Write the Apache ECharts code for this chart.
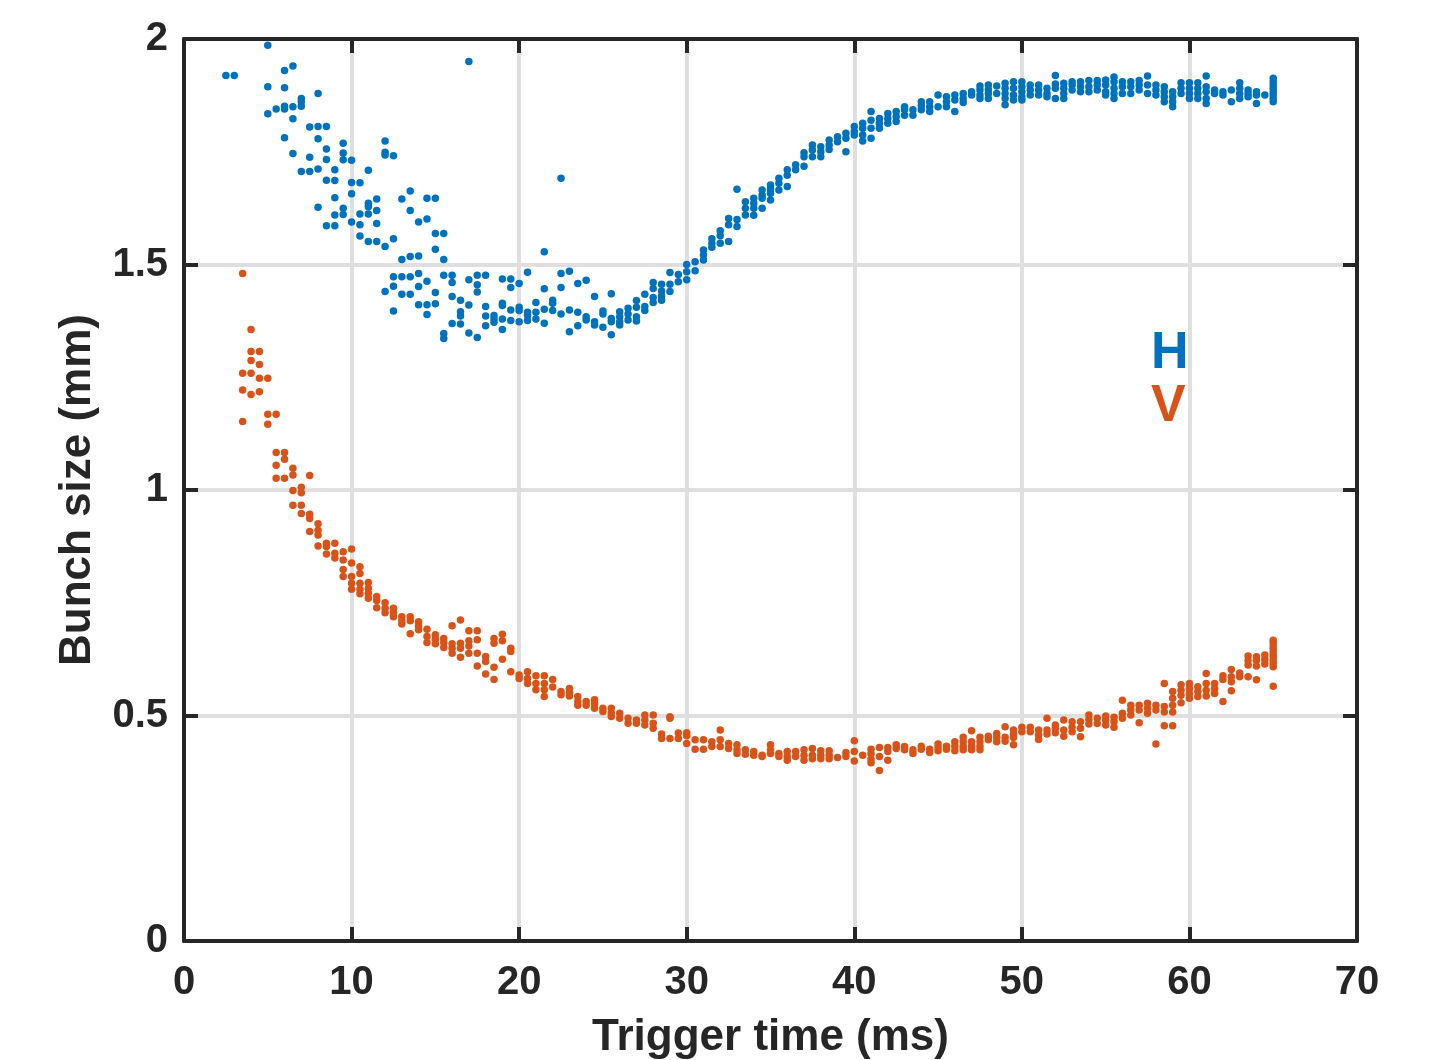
<!DOCTYPE html>
<html><head><meta charset="utf-8">
<script src="https://cdn.jsdelivr.net/npm/echarts@6/dist/echarts.min.js"></script>
<style>html,body{margin:0;padding:0;background:#fff}#c{width:1445px;height:1060px}</style>
</head><body><div id="c"></div>
<script>
// Trigger times (ms) and the bunch sizes (mm) measured at each time
const hTime = [2.5,3,5,5.5,6,6.5,7,7.5,8,8.5,9,9.5,10,10.5,11,11.5,12,12.5,13,13.5,14,14.5,15,15.5,16,16.5,17,17.5,18,18.5,19,19.5,20,20.5,21,21.5,22,22.5,23,23.5,24,24.5,25,25.5,26,26.5,27,27.5,28,28.5,29,29.5,30,30.5,31,31.5,32,32.5,33,33.5,34,34.5,35,35.5,36,36.5,37,37.5,38,38.5,39,39.5,40,40.5,41,41.5,42,42.5,43,43.5,44,44.5,45,45.5,46,46.5,47,47.5,48,48.5,49,49.5,50,50.5,51,51.5,52,52.5,53,53.5,54,54.5,55,55.5,56,56.5,57,57.5,58,58.5,59,59.5,60,60.5,61,61.5,62,62.5,63,63.5,64,64.5,65];
const hSize = [
[1.919],[1.919],[1.986,1.894,1.834],[1.845],[1.930,1.892,1.851,1.845,1.781],[1.940,1.850,1.823,1.746],
[1.868,1.861,1.851,1.706],[1.805,1.738,1.706],[1.879,1.806,1.779,1.712,1.627],[1.806,1.756,1.733,1.687,1.586],
[1.710,1.686,1.648,1.610,1.586],[1.769,1.747,1.732,1.625,1.611],[1.731,1.682,1.657,1.594],[1.681,1.612,1.588,1.563],
[1.709,1.636,1.628,1.612,1.551],[1.645,1.620,1.591,1.551],[1.774,1.749,1.743,1.540,1.440],[1.741,1.557,1.473,1.452,1.397],
[1.645,1.511,1.473,1.434],[1.663,1.620,1.518,1.473,1.434],[1.594,1.519,1.480,1.451,1.411],[1.647,1.601,1.463,1.411,1.389],
[1.647,1.569,1.534,1.438,1.413],[1.569,1.511,1.476,1.347,1.336],[1.476,1.460,1.429,1.369],[1.421,1.395,1.386,1.368],
[1.950,1.466,1.410,1.348],[1.476,1.455,1.439,1.338],[1.476,1.407,1.386,1.364],[1.387,1.379,1.372],
[1.468,1.414,1.409,1.379,1.356],[1.468,1.449,1.399,1.376],[1.458,1.405,1.398,1.373],[1.483,1.394,1.387,1.376],
[1.416,1.394,1.379],[1.528,1.446,1.401,1.370],[1.421,1.414,1.398],[1.691,1.480,1.449,1.390],
[1.485,1.399,1.351],[1.458,1.394,1.364],[1.465,1.384,1.377],[1.429,1.373,1.366],[1.397,1.390,1.361],
[1.435,1.380,1.373,1.344],[1.395,1.384,1.373,1.366],[1.403,1.390,1.377],[1.420,1.405,1.384,1.375],
[1.434,1.407,1.398],[1.460,1.447,1.427,1.416],[1.456,1.441,1.430,1.421],[1.482,1.456,1.440],[1.478,1.462],
[1.500,1.484,1.466],[1.506,1.486],[1.532,1.521,1.510],[1.557,1.547,1.538],[1.575,1.564,1.547],[1.602,1.588,1.551],
[1.667,1.600,1.584],[1.639,1.625,1.610],[1.647,1.636,1.625,1.609],[1.665,1.654,1.647,1.625],[1.676,1.667,1.658,1.643],
[1.691,1.680,1.665],[1.710,1.698,1.673],[1.721,1.710],[1.748,1.739,1.718],[1.765,1.754,1.739],[1.761,1.750,1.739],
[1.776,1.765,1.755],[1.783,1.772],[1.791,1.780,1.750],[1.806,1.795,1.787],[1.813,1.802,1.787,1.774],
[1.839,1.820,1.802,1.780],[1.824,1.813,1.802],[1.835,1.824,1.813],[1.839,1.828,1.817],[1.850,1.843,1.831],
[1.843,1.831],[1.861,1.852,1.843],[1.861,1.850,1.839],[1.876,1.850],[1.872,1.861,1.850],[1.876,1.865,1.839],
[1.879,1.868,1.859],[1.883,1.876],[1.896,1.887,1.876,1.868],[1.898,1.888,1.879,1.868],[1.896,1.879],
[1.902,1.891,1.879,1.868,1.854],[1.905,1.891,1.876,1.865],[1.905,1.894,1.883,1.872,1.865],[1.898,1.887,1.876],
[1.898,1.887,1.876],[1.891,1.879,1.872],[1.919,1.900,1.891,1.868],[1.902,1.891,1.879,1.868],[1.905,1.898,1.887],
[1.905,1.894,1.883],[1.908,1.894,1.883],[1.908,1.898,1.887],[1.909,1.898,1.883,1.876],[1.916,1.905,1.891,1.879,1.868],
[1.905,1.894,1.879],[1.905,1.894,1.879],[1.908,1.898,1.887],[1.918,1.898,1.879],[1.898,1.887,1.876],
[1.894,1.883,1.872,1.861],[1.883,1.872,1.861,1.850],[1.903,1.891,1.879],[1.903,1.891,1.879,1.868],
[1.903,1.891,1.879,1.868],[1.918,1.894,1.883,1.868,1.857],[1.887,1.879],[1.883,1.876],[1.887,1.861],
[1.903,1.891,1.879,1.868],[1.887,1.879,1.872],[1.883,1.876,1.857],[1.876],
[1.913,1.905,1.898,1.891,1.883,1.876,1.868,1.861]
];
const vTime = [3.5,4,4.5,5,5.5,6,6.5,7,7.5,8,8.5,9,9.5,10,10.5,11,11.5,12,12.5,13,13.5,14,14.5,15,15.5,16,16.5,17,17.5,18,18.5,19,19.5,20,20.5,21,21.5,22,22.5,23,23.5,24,24.5,25,25.5,26,26.5,27,27.5,28,28.5,29,29.5,30,30.5,31,31.5,32,32.5,33,33.5,34,34.5,35,35.5,36,36.5,37,37.5,38,38.5,39,39.5,40,40.5,41,41.5,42,42.5,43,43.5,44,44.5,45,45.5,46,46.5,47,47.5,48,48.5,49,49.5,50,50.5,51,51.5,52,52.5,53,53.5,54,54.5,55,55.5,56,56.5,57,57.5,58,58.5,59,59.5,60,60.5,61,61.5,62,62.5,63,63.5,64,64.5,65];
const vSize = [
[1.480,1.259,1.222,1.152],[1.356,1.307,1.287,1.259,1.212],[1.307,1.278,1.248,1.218],[1.248,1.168,1.146],
[1.168,1.083,1.055,1.026],[1.083,1.068,1.026],[1.048,1.033,0.999,0.966],[1.006,0.994,0.966,0.948],
[1.032,0.946,0.937,0.908],[0.925,0.911,0.900,0.876],[0.882,0.875,0.858],[0.882,0.860,0.849],
[0.863,0.845,0.824,0.808],[0.869,0.838,0.808,0.793,0.780],[0.830,0.815,0.793,0.780,0.770],[0.795,0.782,0.771,0.760],
[0.764,0.755,0.739],[0.750,0.738,0.728],[0.738,0.728,0.719],[0.719,0.710,0.703],[0.719,0.710,0.681],
[0.708,0.699,0.690],[0.691,0.675,0.662],[0.679,0.669,0.659],[0.671,0.662,0.651],[0.699,0.659,0.649,0.638],
[0.712,0.660,0.649,0.629],[0.688,0.666,0.654,0.638],[0.688,0.668,0.638,0.610],[0.631,0.620,0.592],
[0.671,0.660,0.607,0.580],[0.680,0.666,0.625],[0.649,0.642,0.597],[0.590,0.582],[0.597,0.582,0.571],
[0.588,0.571,0.557],[0.588,0.571,0.557,0.542],[0.580,0.563],[0.553,0.546],[0.560,0.551,0.543],
[0.542,0.531,0.523],[0.531,0.523],[0.535,0.526,0.516],[0.516,0.509],[0.516,0.505,0.498],[0.505,0.494],
[0.494,0.483],[0.490,0.483],[0.501,0.490,0.479],[0.501,0.483,0.472],[0.459,0.449],[0.497,0.494,0.449],
[0.461,0.449],[0.462,0.455,0.438],[0.446,0.425],[0.446,0.425],[0.442,0.431],[0.468,0.446,0.431],
[0.438,0.427],[0.435,0.424,0.416],[0.424,0.414],[0.420,0.412],[0.412,0.409],[0.435,0.424,0.416],
[0.416,0.409],[0.420,0.409,0.401],[0.420,0.409],[0.424,0.412,0.401],[0.427,0.412,0.404],[0.422,0.412,0.404],
[0.422,0.412,0.404],[0.407],[0.418,0.409],[0.444,0.420,0.399],[0.412],[0.425,0.415,0.403,0.395],
[0.429,0.409,0.378],[0.429,0.420,0.401],[0.435,0.427],[0.431,0.424],[0.424,0.416],[0.432,0.425],
[0.425,0.418],[0.437,0.429,0.422],[0.432,0.425],[0.442,0.432,0.422],[0.452,0.442,0.432,0.424],
[0.466,0.442,0.432,0.424],[0.452,0.442,0.432,0.424],[0.454,0.446],[0.460,0.452,0.442],[0.475,0.452,0.443],
[0.468,0.459,0.451,0.435],[0.474,0.464],[0.474,0.464],[0.468,0.457,0.447],[0.494,0.468,0.459],
[0.479,0.472,0.462],[0.490,0.468,0.454],[0.486,0.474,0.464],[0.486,0.472,0.453],[0.501,0.491,0.481],
[0.494,0.482],[0.499,0.490,0.479],[0.496,0.486,0.474],[0.534,0.505,0.494],[0.523,0.512,0.501],
[0.523,0.512,0.484],[0.527,0.516,0.505],[0.523,0.512,0.437],[0.571,0.520,0.508,0.477],
[0.553,0.538,0.523,0.508,0.477],[0.568,0.556,0.545,0.528],[0.571,0.560,0.549,0.538],[0.564,0.553,0.542],
[0.593,0.571,0.556,0.543],[0.571,0.560,0.549],[0.588,0.580,0.531],[0.602,0.586,0.575,0.555],[0.594,0.586],
[0.632,0.622,0.612,0.586],[0.630,0.622,0.610,0.579],[0.634,0.624,0.614],
[0.667,0.660,0.652,0.645,0.637,0.630,0.622,0.615,0.608,0.565]
];
const xTicks = [0,10,20,30,40,50,60,70];
const yTicks = [0,0.5,1,1.5,2];
const seriesNames = ['H','V'];

function pairs(times, sizes){
  const out = [];
  times.forEach((t,i)=>sizes[i].forEach(v=>out.push([t,v])));
  return out;
}

const FONT = '"Liberation Sans", Arial, Helvetica, sans-serif';
const DARK = '#262626';
const COLORS = ['#0072BD','#D95319'];

const chart = echarts.init(document.getElementById('c'), null, {renderer:'canvas'});
const axisLine = {show:true, onZero:false, lineStyle:{color:DARK, width:4}};
const tick = {show:true, inside:true, length:14, lineStyle:{color:DARK, width:4}};
const split = {show:true, lineStyle:{color:'#dfdfdf', width:4}};
const xMin = xTicks[0], xMax = xTicks[xTicks.length-1], xInt = xTicks[1]-xTicks[0];
const yMin = yTicks[0], yMax = yTicks[yTicks.length-1], yInt = yTicks[1]-yTicks[0];

chart.setOption({
  animation:false,
  backgroundColor:'#fff',
  grid:{left:184, right:88, top:39, bottom:119, containLabel:false, outerBoundsMode:'none'},
  xAxis:[
    {type:'value', position:'bottom', min:xMin, max:xMax, interval:xInt,
     name:'Trigger time (ms)', nameLocation:'middle', nameGap:75,
     nameTextStyle:{fontFamily:FONT, fontWeight:'bold', fontSize:44, color:DARK},
     axisLine, axisTick:tick, splitLine:split,
     axisLabel:{show:true, margin:22, fontFamily:FONT, fontWeight:'bold', fontSize:40, color:DARK, showMinLabel:true, showMaxLabel:true}},
    {type:'value', position:'top', min:xMin, max:xMax, interval:xInt,
     axisLine, axisTick:tick, splitLine:{show:false}, axisLabel:{show:false}}
  ],
  yAxis:[
    {type:'value', position:'left', min:yMin, max:yMax, interval:yInt,
     name:'Bunch size (mm)', nameLocation:'middle', nameGap:84,
     nameTextStyle:{fontFamily:FONT, fontWeight:'bold', fontSize:44, color:DARK},
     axisLine, axisTick:tick, splitLine:split,
     axisLabel:{show:true, margin:16, fontFamily:FONT, fontWeight:'bold', fontSize:40, color:DARK, showMinLabel:true, showMaxLabel:true}},
    {type:'value', position:'right', min:yMin, max:yMax, interval:yInt,
     axisLine, axisTick:tick, splitLine:{show:false}, axisLabel:{show:false}}
  ],
  series:[
    {name:seriesNames[0], type:'scatter', symbol:'circle', symbolSize:7.5,
     itemStyle:{color:COLORS[0], opacity:1}, data:pairs(hTime,hSize)},
    {name:seriesNames[1], type:'scatter', symbol:'circle', symbolSize:7.5,
     itemStyle:{color:COLORS[1], opacity:1}, data:pairs(vTime,vSize)}
  ],
  graphic:[
    {type:'text', left:1151, top:328, z:10,
     style:{text:seriesNames[0], fill:COLORS[0], font:'bold 52px '+FONT}},
    {type:'text', left:1151, top:381, z:10,
     style:{text:seriesNames[1], fill:COLORS[1], font:'bold 52px '+FONT}}
  ]
});
</script>
</body></html>
